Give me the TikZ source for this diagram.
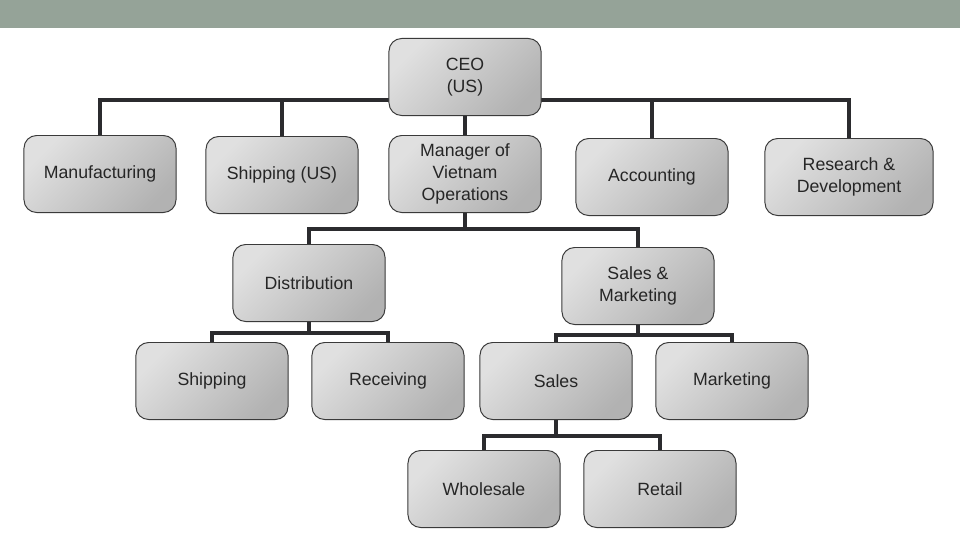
\documentclass[tikz,border=0pt]{standalone}
\usepackage{fontspec}
\setmainfont{Liberation Sans}
\usetikzlibrary{positioning, backgrounds}
\definecolor{bandgray}{HTML}{95A398}
\definecolor{linkgray}{HTML}{2B2B2E}
\definecolor{edgegray}{HTML}{3A3A3A}

\begin{document}
\begin{tikzpicture}[
    x=0.025cm, y=-0.025cm,
    unit/.style={draw=edgegray, line width=0.7pt, rounded corners=9pt,
                 minimum width=3.8cm, minimum height=1.925cm, align=center,
                 left color=black!12, right color=black!30, shading angle=45,
                 text=black!85, font=\fontsize{12.6}{15.6}\selectfont},
    link/.style={line width=3.5pt, linkgray},
]
\useasboundingbox (0,0) rectangle (960,540);
\fill[bandgray] (0,0) rectangle (960,28);

% top level
\node[unit] (ceo) at (465,77) {CEO\\(US)};

% second level
\node[unit] (manuf) at (100,174) {Manufacturing};
\node[unit] (shipus) at (282,175) {Shipping (US)};
\node[unit] (mgr) at (465,174) {Manager of\\Vietnam\\Operations};
\node[unit] (acct) at (652,177) {Accounting};
\node[unit, minimum width=4.2cm] (rnd) at (849,177) {Research \&\\Development};

% under the manager
\node[unit] (dist) at (309,283) {Distribution};
\node[unit] (salesmkt) at (638,286) {Sales \&\\Marketing};

\node[unit] (ship) at (212,381) {Shipping};
\node[unit] (recv) at (388,381) {Receiving};
\node[unit] (sales) at (556,381) {Sales};
\node[unit] (mkt) at (732,381) {Marketing};

\node[unit] (whole) at (484,489) {Wholesale};
\node[unit] (retail) at (660,489) {Retail};

% bus points
\coordinate (ceobus) at (465,100);
\coordinate (mgrbus) at (465,229);
\coordinate (distbus) at (309,333);
\coordinate (smbus) at (638,335);
\coordinate (salesbus) at (556,436);

\begin{pgfonlayer}{background}
\draw[link] (manuf.north) |- (ceobus) -| (rnd.north);
\draw[link] (shipus.north) |- (ceobus);
\draw[link] (acct.north) |- (ceobus);
\draw[link] (ceo) -- (mgr);

\draw[link] (mgr.south) -- (mgrbus);
\draw[link] (dist.north) |- (mgrbus) -| (salesmkt.north);

\draw[link] (dist.south) -- (distbus);
\draw[link] (ship.north) |- (distbus) -| (recv.north);

\draw[link] (salesmkt.south) -- (smbus);
\draw[link] (sales.north) |- (smbus) -| (mkt.north);

\draw[link] (sales.south) -- (salesbus);
\draw[link] (whole.north) |- (salesbus) -| (retail.north);
\end{pgfonlayer}
\end{tikzpicture}
\end{document}
